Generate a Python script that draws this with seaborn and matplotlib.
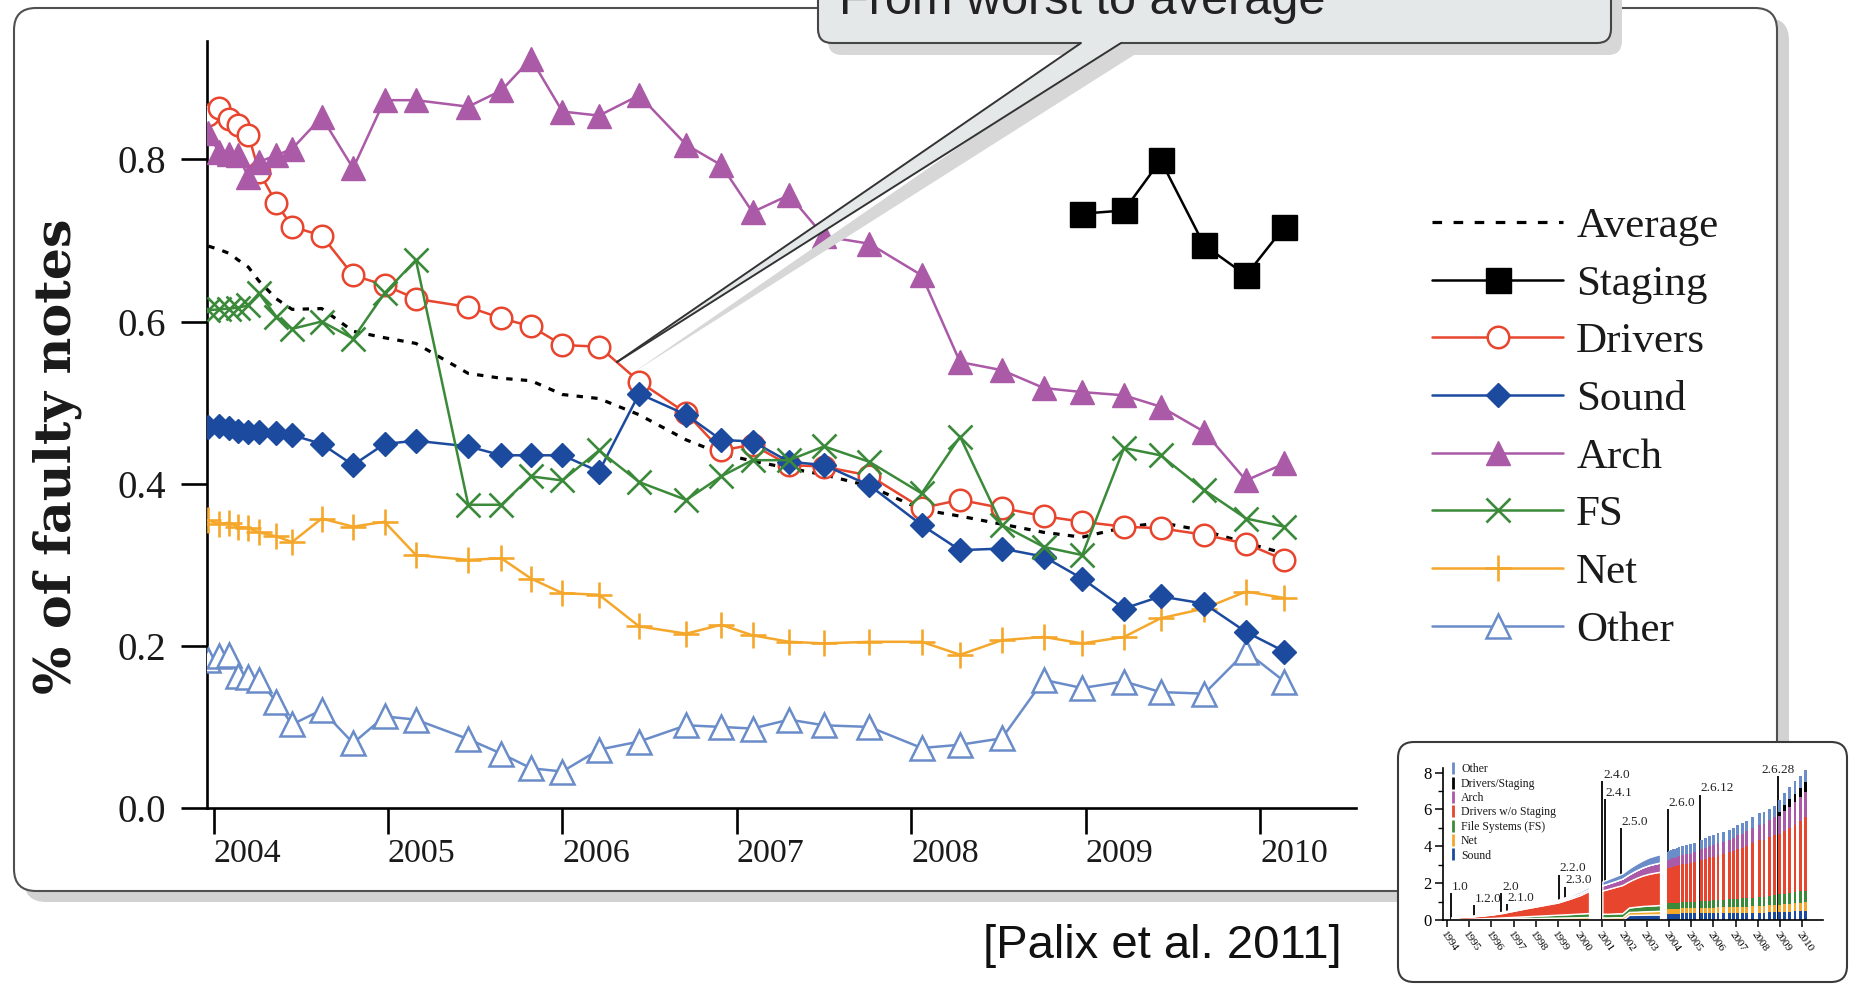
import matplotlib
matplotlib.use("Agg")
import numpy as np
import matplotlib.pyplot as plt
from matplotlib.lines import Line2D
from matplotlib.patches import FancyBboxPatch, Polygon
from matplotlib.transforms import IdentityTransform
import seaborn as sns

# ---------------------------------------------------------------- data
# Linux 2.6.x release dates (decimal years)
release = [2003.97, 2004.03, 2004.09, 2004.14, 2004.20, 2004.26, 2004.36, 2004.45,
           2004.62, 2004.80, 2004.98, 2005.16, 2005.46, 2005.65, 2005.82, 2006.00,
           2006.21, 2006.44, 2006.71, 2006.91, 2007.09, 2007.30, 2007.50, 2007.76,
           2008.06, 2008.28, 2008.52, 2008.76, 2008.98, 2009.22, 2009.43, 2009.68,
           2009.92, 2010.14]

average = [0.693, 0.689, 0.684, 0.676, 0.667, 0.650, 0.628, 0.615, 0.616, 0.588,
           0.580, 0.573, 0.536, 0.530, 0.527, 0.510, 0.505, 0.485, 0.454, 0.437,
           0.428, 0.419, 0.411, 0.397, 0.368, 0.360, 0.350, 0.340, 0.334, 0.346,
           0.352, 0.342, 0.327, 0.314]
drivers = [0.855, 0.863, 0.850, 0.842, 0.830, 0.785, 0.746, 0.717, 0.706, 0.657,
           0.645, 0.628, 0.618, 0.604, 0.594, 0.571, 0.569, 0.526, 0.487, 0.441,
           0.448, 0.423, 0.421, 0.410, 0.370, 0.380, 0.370, 0.360, 0.353, 0.347,
           0.345, 0.337, 0.326, 0.306]
sound = [0.470, 0.471, 0.469, 0.465, 0.464, 0.464, 0.462, 0.460, 0.449, 0.423,
         0.449, 0.453, 0.446, 0.435, 0.435, 0.435, 0.415, 0.511, 0.485, 0.454,
         0.452, 0.427, 0.423, 0.398, 0.349, 0.318, 0.320, 0.310, 0.283, 0.246,
         0.261, 0.252, 0.217, 0.193]
arch = [0.832, 0.809, 0.807, 0.805, 0.778, 0.797, 0.805, 0.813, 0.852, 0.789,
        0.873, 0.873, 0.865, 0.885, 0.924, 0.859, 0.854, 0.879, 0.818, 0.793,
        0.735, 0.756, 0.705, 0.696, 0.657, 0.550, 0.540, 0.518, 0.513, 0.509,
        0.495, 0.464, 0.404, 0.425]
fs = [0.614, 0.615, 0.616, 0.617, 0.620, 0.635, 0.606, 0.591, 0.600, 0.579,
      0.635, 0.676, 0.374, 0.374, 0.409, 0.404, 0.441, 0.402, 0.380, 0.409,
      0.429, 0.429, 0.446, 0.427, 0.388, 0.458, 0.349, 0.322, 0.312, 0.444,
      0.435, 0.392, 0.357, 0.347]
net = [0.355, 0.350, 0.352, 0.347, 0.345, 0.340, 0.335, 0.328, 0.357, 0.347,
       0.353, 0.312, 0.306, 0.308, 0.283, 0.265, 0.263, 0.224, 0.215, 0.226,
       0.213, 0.205, 0.203, 0.205, 0.205, 0.189, 0.207, 0.211, 0.203, 0.211,
       0.234, 0.246, 0.267, 0.259]
other = [0.182, 0.187, 0.189, 0.163, 0.162, 0.158, 0.131, 0.103, 0.121, 0.080,
         0.113, 0.109, 0.085, 0.067, 0.049, 0.045, 0.072, 0.082, 0.102, 0.100,
         0.098, 0.109, 0.102, 0.100, 0.074, 0.078, 0.086, 0.158, 0.148, 0.156,
         0.143, 0.141, 0.193, 0.156]
staging_release = [2008.98, 2009.22, 2009.43, 2009.68, 2009.92, 2010.14]
staging = [0.733, 0.737, 0.799, 0.694, 0.657, 0.717]

year_ticks = [2004, 2005, 2006, 2007, 2008, 2009, 2010]
year_labels = ["2004", "2005", "2006", "2007", "2008", "2009", "2010"]
pct_ticks = [0.0, 0.2, 0.4, 0.6, 0.8]
pct_labels = ["0.0", "0.2", "0.4", "0.6", "0.8"]

# code size (MLOC) per directory, Linux 1.0 - 2.6.33
a_x = [1994.2, 1994.6, 1995.0, 1995.5, 1996.0, 1996.5, 1997.0, 1997.5, 1998.0,
       1998.5, 1999.0, 1999.5, 2000.0, 2000.4]
a_sound = [0, 0, 0, 0, 0, 0, 0, 0, 0, 0, 0, 0, 0, 0]
a_net = [0.03, 0.04, 0.05, 0.06, 0.07, 0.08, 0.09, 0.10, 0.11, 0.12, 0.13, 0.14, 0.15, 0.16]
a_fs = [0.00, 0.01, 0.02, 0.03, 0.04, 0.06, 0.08, 0.10, 0.12, 0.14, 0.16, 0.18, 0.20, 0.22]
a_drivers = [0.08, 0.11, 0.11, 0.14, 0.18, 0.24, 0.33, 0.42, 0.50, 0.58, 0.66, 0.82, 1.00, 1.20]
a_arch = [0.01, 0.01, 0.01, 0.02, 0.02, 0.03, 0.04, 0.05, 0.06, 0.07, 0.08, 0.09, 0.10, 0.11]
a_staging = [0, 0, 0, 0, 0, 0, 0, 0, 0, 0, 0, 0, 0, 0]
a_other = [0.02, 0.02, 0.03, 0.03, 0.04, 0.04, 0.05, 0.05, 0.06, 0.06, 0.07, 0.08, 0.10, 0.11]

b_x = [2001.0, 2001.3, 2001.6, 2001.9, 2002.2, 2002.5, 2002.8, 2003.1, 2003.4, 2003.6]
b_sound = [0, 0, 0, 0, 0.28, 0.28, 0.29, 0.30, 0.30, 0.30]
b_net = [0.14, 0.14, 0.15, 0.15, 0.16, 0.17, 0.18, 0.18, 0.19, 0.20]
b_fs = [0.20, 0.20, 0.21, 0.22, 0.24, 0.27, 0.29, 0.30, 0.31, 0.32]
b_drivers = [1.26, 1.36, 1.44, 1.53, 1.42, 1.55, 1.65, 1.73, 1.78, 1.80]
b_arch = [0.28, 0.30, 0.32, 0.35, 0.38, 0.41, 0.44, 0.47, 0.49, 0.50]
b_staging = [0, 0, 0, 0, 0, 0, 0, 0, 0, 0]
b_other = [0.22, 0.24, 0.26, 0.28, 0.32, 0.35, 0.38, 0.42, 0.44, 0.45]

c_sound = [0.35, 0.35, 0.35, 0.35, 0.35, 0.35, 0.35, 0.35, 0.36, 0.36, 0.36, 0.36,
           0.37, 0.37, 0.37, 0.37, 0.38, 0.38, 0.38, 0.38, 0.39, 0.39, 0.39, 0.40,
           0.40, 0.40, 0.41, 0.42, 0.43, 0.44, 0.46, 0.47, 0.48, 0.50]
c_net = [0.25, 0.25, 0.25, 0.25, 0.25, 0.26, 0.26, 0.26, 0.27, 0.27, 0.28, 0.28,
         0.29, 0.29, 0.30, 0.30, 0.31, 0.31, 0.32, 0.32, 0.33, 0.33, 0.34, 0.35,
         0.36, 0.37, 0.38, 0.39, 0.40, 0.41, 0.42, 0.43, 0.44, 0.45]
c_fs = [0.30, 0.30, 0.30, 0.31, 0.31, 0.31, 0.32, 0.32, 0.33, 0.33, 0.34, 0.35,
        0.36, 0.37, 0.38, 0.39, 0.40, 0.41, 0.42, 0.43, 0.44, 0.45, 0.46, 0.47,
        0.48, 0.50, 0.52, 0.54, 0.56, 0.58, 0.60, 0.62, 0.64, 0.65]
c_drivers = [1.90, 1.94, 1.98, 1.96, 2.00, 1.99, 2.02, 2.05, 2.06, 2.09, 2.09, 2.14,
             2.24, 2.30, 2.36, 2.38, 2.43, 2.49, 2.55, 2.60, 2.69, 2.73, 2.82, 2.95,
             3.08, 3.06, 3.17, 3.24, 3.26, 3.40, 3.52, 3.66, 3.82, 4.00]
c_arch = [0.45, 0.45, 0.46, 0.47, 0.47, 0.48, 0.48, 0.49, 0.50, 0.51, 0.53, 0.55,
          0.57, 0.59, 0.61, 0.63, 0.65, 0.67, 0.69, 0.71, 0.74, 0.77, 0.80, 0.83,
          0.86, 0.90, 0.94, 0.98, 1.02, 1.10, 1.16, 1.22, 1.28, 1.35]
c_staging = [0, 0, 0, 0, 0, 0, 0, 0, 0, 0, 0, 0, 0, 0, 0, 0, 0, 0, 0, 0, 0, 0, 0, 0,
             0, 0, 0, 0, 0.20, 0.32, 0.40, 0.46, 0.50, 0.55]
c_other = [0.45, 0.46, 0.46, 0.46, 0.47, 0.46, 0.47, 0.48, 0.48, 0.49, 0.50, 0.51,
           0.52, 0.53, 0.53, 0.53, 0.53, 0.54, 0.54, 0.56, 0.56, 0.58, 0.59, 0.60,
           0.62, 0.62, 0.63, 0.64, 0.63, 0.65, 0.66, 0.67, 0.68, 0.65]

versions = ["1.0", "1.2.0", "2.0", "2.1.0", "2.2.0", "2.3.0", "2.4.0", "2.4.1",
            "2.5.0", "2.6.0", "2.6.12", "2.6.28"]
version_year = [1994.2, 1995.2, 1996.45, 1996.7, 1999.05, 1999.3, 2001.0, 2001.1,
                2001.85, 2003.95, 2005.4, 2008.9]
version_top = [1.45, 0.8, 1.45, 0.85, 2.45, 1.8, 7.55, 6.55, 5.0, 6.0, 6.8, 7.8]

inset_years = list(range(1994, 2011))
inset_year_labels = [str(y) for y in inset_years]
inset_series = ["Sound", "Net", "File Systems (FS)", "Drivers w/o Staging",
                "Arch", "Drivers/Staging", "Other"]

# ---------------------------------------------------------------- style
sns.set_theme(style="ticks")
plt.rcParams["font.family"] = ["Liberation Serif", "DejaVu Serif"]
plt.rcParams["axes.edgecolor"] = "black"
plt.rcParams["xtick.color"] = "black"
plt.rcParams["ytick.color"] = "black"
plt.rcParams["text.color"] = "#1a1a1a"

C_DRV = "#e8452e"
C_SND = "#1c4a9e"
C_ARCH = "#aa5aa6"
C_FS = "#3b8a3a"
C_NET = "#f5a72c"
C_OTH = "#6a8cc8"

W, H = 1851, 985
fig = plt.figure(figsize=(W / 100, H / 100), dpi=100)
fig.patch.set_facecolor("white")
PX = IdentityTransform()


def fpos(x, y):
    return x / W, 1 - y / H


def rbox(x0, y0, x1, y1, r, **kw):
    p = FancyBboxPatch((x0, H - y1), x1 - x0, y1 - y0,
                       boxstyle=f"round,pad=0,rounding_size={r}",
                       transform=PX, **kw)
    fig.add_artist(p)
    return p


def poly(points, **kw):
    p = Polygon([(x, H - y) for x, y in points], closed=True, transform=PX, **kw)
    fig.add_artist(p)
    return p


def seg(p0, p1, **kw):
    ln = Line2D([p0[0], p1[0]], [H - p0[1], H - p1[1]], transform=PX, **kw)
    fig.add_artist(ln)


# slide frame with drop shadow
rbox(24, 18, 1789, 902, 22, fc="#d2d2d2", ec="none", zorder=-3)
rbox(14, 8, 1777, 891, 22, fc="white", ec="#505050", lw=1.5, zorder=-2)

# ---------------------------------------------------------------- main chart
x0, x1, ytop, ybot = 207.3, 1356, 41, 808
ax = fig.add_axes([x0 / W, 1 - ybot / H, (x1 - x0) / W, (ybot - ytop) / H])
ax.patch.set_alpha(0)

LW = 1.8
DOTS = (0, (2.0, 2.6))

# marker styles shared by the plot and its legend
STYLE = {
    "Staging": dict(color="black", marker="s", markersize=18, markerfacecolor="black",
                    markeredgecolor="black", markeredgewidth=1.0),
    "Drivers": dict(color=C_DRV, marker="o", markersize=15.5, markerfacecolor="white",
                    markeredgecolor=C_DRV, markeredgewidth=1.8),
    "Sound": dict(color=C_SND, marker="D", markersize=12.5, markerfacecolor=C_SND,
                  markeredgecolor=C_SND, markeredgewidth=1.0),
    "Arch": dict(color=C_ARCH, marker="^", markersize=17.5, markerfacecolor=C_ARCH,
                 markeredgecolor=C_ARCH, markeredgewidth=1.0),
    "FS": dict(color=C_FS, marker="x", markersize=17, markeredgecolor=C_FS,
               markeredgewidth=1.9),
    "Net": dict(color=C_NET, marker="+", markersize=18.5, markeredgecolor=C_NET,
                markeredgewidth=1.9),
    "Other": dict(color=C_OTH, marker="^", markersize=17.5, markerfacecolor="white",
                  markeredgecolor=C_OTH, markeredgewidth=1.8),
}


def draw(xs, ys, linewidth=LW, **kw):
    sns.lineplot(x=xs, y=ys, ax=ax, legend=False, estimator=None, sort=False,
                 linewidth=linewidth, **kw)


draw(release, average, linewidth=2.3, color="black", linestyle=DOTS, zorder=2)
draw(release, other, zorder=3, **STYLE["Other"])
draw(release, net, zorder=3, **STYLE["Net"])
draw(release, drivers, zorder=4, **STYLE["Drivers"])
draw(release, sound, zorder=5, **STYLE["Sound"])
draw(release, arch, zorder=5, **STYLE["Arch"])
draw(release, fs, zorder=6, **STYLE["FS"])
draw(staging_release, staging, zorder=6, **STYLE["Staging"])

ax.set_xlim(2003.964, 2010.55)
ax.set_ylim(0, 0.946)
ax.set_xticks(year_ticks)
ax.set_xticklabels(year_labels)
ax.set_yticks(pct_ticks)
ax.set_yticklabels(pct_labels)
ax.set_xlabel("")
ax.set_ylabel("")
sns.despine(ax=ax)
for side in ("left", "bottom"):
    ax.spines[side].set_linewidth(1.9)
    ax.spines[side].set_color("black")
ax.tick_params(axis="x", length=19, width=1.9, direction="out", pad=3,
               labelsize=24.5, labelcolor="#1a1a1a")
ax.tick_params(axis="y", length=19, width=1.9, direction="out", pad=11,
               labelsize=28, labelcolor="#1a1a1a")
for t in ax.get_xticklabels():
    t.set_horizontalalignment("left")

fig.text(*fpos(57, 456), "% of faulty notes", rotation=90, ha="center", va="center",
         fontsize=36.5, fontweight="bold", family=["DejaVu Serif"], color="#1a1a1a")

# legend
labels = ["Average", "Staging", "Drivers", "Sound", "Arch", "FS", "Net", "Other"]
handles = [Line2D([], [], color="black", lw=2.3, linestyle=(0, (3.0, 3.6)))]
handles += [Line2D([], [], lw=LW, **STYLE[name]) for name in labels[1:]]
fig.legend(handles, labels, loc="upper left", bbox_to_anchor=fpos(1432, 207),
           frameon=False, fontsize=31, handlelength=3.05, handletextpad=0.3,
           labelspacing=0.43, borderpad=0, borderaxespad=0)

# ---------------------------------------------------------------- callout
rbox(828, -60, 1622, 55, 14, fc="#d7d7d7", ec="none", zorder=2)
poly([(634, 372), (1092, 55), (1134, 55)], fc="#d7d7d7", ec="none", zorder=2.05)
rbox(818, -60, 1611, 43, 14, fc="#e5e8e9", ec="#454545", lw=1.5, zorder=2.1)
poly([(617, 362), (1081, 43.5), (1081, 38), (1121, 38), (1121, 43.5)],
     fc="#e5e8e9", ec="none", zorder=2.2)
seg((617, 362), (1081, 43), color="#333333", lw=1.4, zorder=2.3)
seg((617, 362), (1121, 43), color="#333333", lw=1.4, zorder=2.3)
fig.text(*fpos(839, 14), "From worst to average", ha="left", va="baseline",
         fontsize=35, family=["Liberation Sans"], color="#222222", zorder=2.5)

fig.text(*fpos(983, 958), "[Palix et al. 2011]", ha="left", va="baseline",
         fontsize=34, family=["Liberation Sans"], color="#111111")

# ---------------------------------------------------------------- inset
rbox(1398, 742, 1847, 982, 16, fc="white", ec="#3a3a3a", lw=1.5, zorder=3)
ix0, ix1, iy0, iy1 = 1443, 1823, 768, 920
axi = fig.add_axes([ix0 / W, 1 - iy1 / H, (ix1 - ix0) / W, (iy1 - iy0) / H], zorder=4)
axi.patch.set_alpha(0)

inset_colors = [C_SND, C_NET, C_FS, C_DRV, C_ARCH, "black", C_OTH]
axi.vlines(version_year, 0, version_top, color="black", lw=1.3, zorder=0.5)
axi.stackplot(a_x, a_sound, a_net, a_fs, a_drivers, a_arch, a_staging, a_other,
              colors=inset_colors, zorder=1)
axi.stackplot(b_x, b_sound, b_net, b_fs, b_drivers, b_arch, b_staging, b_other,
              colors=inset_colors, zorder=1)
c_layers = [c_sound, c_net, c_fs, c_drivers, c_arch, c_staging, c_other]
bottom = np.zeros(len(release))
for layer, col in zip(c_layers, inset_colors):
    axi.bar(release, layer, bottom=bottom, width=0.13, color=col, linewidth=0, zorder=1)
    bottom = bottom + np.asarray(layer)

for name, yr, top in zip(versions, version_year, version_top):
    ha = "center" if name == "2.6.28" else "left"
    axi.text(yr + (0 if ha == "center" else 0.03), top + 0.02, name, ha=ha,
             va="bottom", fontsize=9.5, color="#222222")

axi.set_xlim(1993.82, 2010.94)
axi.set_ylim(0, 8.25)
axi.set_xticks(inset_years)
axi.set_xticklabels(inset_year_labels, rotation=-55, ha="left", va="top",
                    rotation_mode="anchor")
axi.set_yticks([0, 2, 4, 6, 8])
axi.set_yticks([1, 3, 5, 7], minor=True)
sns.despine(ax=axi)
for side in ("left", "bottom"):
    axi.spines[side].set_linewidth(1.2)
axi.tick_params(axis="x", length=5, width=1.1, pad=2, labelsize=8)
axi.tick_params(axis="y", which="major", length=6, width=1.1, pad=2, labelsize=12)
axi.tick_params(axis="y", which="minor", length=3.5, width=1.0, left=True)

in_handles = [Line2D([], [], linestyle="none", marker="|", markersize=9,
                     markeredgewidth=2, color=c) for c in inset_colors[::-1]]
axi.legend(in_handles, inset_series[::-1], loc="upper left",
           bbox_to_anchor=(1994.1, 8.5), bbox_transform=axi.transData,
           frameon=False, fontsize=8.5, handlelength=0.6, handletextpad=0.4,
           labelspacing=0.2, borderpad=0, borderaxespad=0)

fig.savefig("out.png", dpi=100, facecolor="white")
